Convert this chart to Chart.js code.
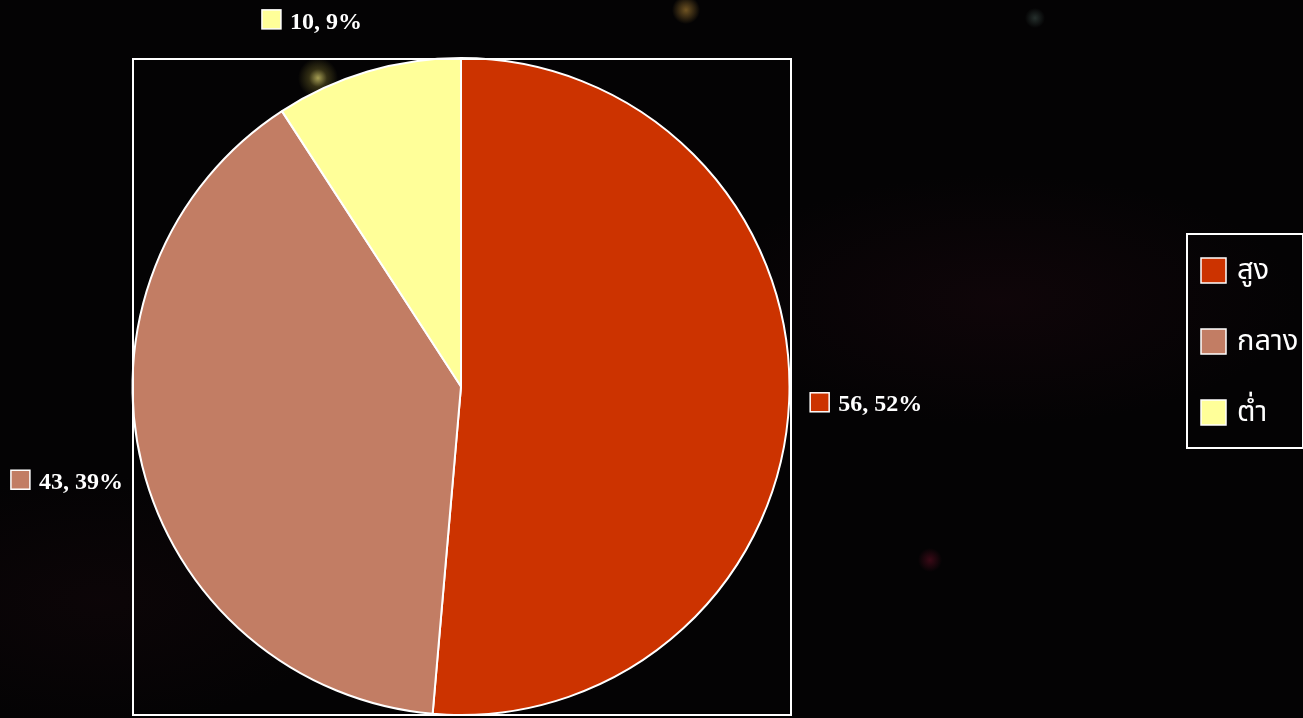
<!DOCTYPE html>
<html>
<head>
<meta charset="utf-8">
<script src="https://cdn.jsdelivr.net/npm/chart.js@4.4.0/dist/chart.umd.min.js"></script>
<style>
html,body{margin:0;padding:0;width:1303px;height:718px;overflow:hidden;
background:
 radial-gradient(circle at 318px 78px, rgba(220,210,110,0.75) 0px, rgba(140,130,50,0.35) 9px, rgba(0,0,0,0) 20px),
 radial-gradient(circle at 686px 10px, rgba(200,150,60,0.55) 0px, rgba(0,0,0,0) 14px),
 radial-gradient(circle at 930px 560px, rgba(140,20,50,0.4) 0px, rgba(0,0,0,0) 12px),
 radial-gradient(circle at 1035px 18px, rgba(100,130,120,0.35) 0px, rgba(0,0,0,0) 10px),
 radial-gradient(ellipse at 1000px 300px, rgba(40,10,20,0.3) 0px, rgba(0,0,0,0) 300px),
 radial-gradient(ellipse at 100px 600px, rgba(30,10,15,0.3) 0px, rgba(0,0,0,0) 250px),
 #040304;}
canvas{display:block;}
</style>
</head>
<body>
<canvas id="c" width="1303" height="718"></canvas>
<script>
const categories = ['สูง', 'กลาง', 'ต่ำ'];
const values = [56, 43, 10];
const percentLabels = ['52%', '39%', '9%'];
const colors = ['#CC3300', '#C27D64', '#FFFF99'];

const overlay = {
  id: 'overlay',
  afterDraw(chart) {
    const ctx = chart.ctx;
    const area = chart.chartArea;
    ctx.save();
    // plot area box
    ctx.strokeStyle = '#ffffff';
    ctx.lineWidth = 2;
    ctx.strokeRect(area.left + 2, area.top + 2, area.right - area.left - 2, area.bottom - area.top - 3);

    // data labels
    const meta = chart.getDatasetMeta(0);
    ctx.font = 'bold 24px "Liberation Serif", "Times New Roman", serif';
    ctx.textBaseline = 'middle';
    meta.data.forEach((arc, i) => {
      const mid = (arc.startAngle + arc.endAngle) / 2;
      const dx = Math.cos(mid), dy = Math.sin(mid);
      const ax = arc.x + (arc.outerRadius + 20) * dx;
      const ay = arc.y + (arc.outerRadius + 20) * dy;
      const text = values[i] + ', ' + percentLabels[i];
      const tw = ctx.measureText(text).width;
      const sq = 19, gap = 10;
      const total = sq + gap + tw;
      let left = dx >= 0 ? ax : ax - total;
      let cy;
      if (dy < -0.7) cy = ay - 32;
      else if (dy > 0.7) cy = ay + 32;
      else cy = ay + dy * 40;
      ctx.fillStyle = colors[i];
      ctx.fillRect(left + 1, cy - sq / 2 - 1, sq, sq);
      ctx.strokeStyle = '#ffffff';
      ctx.lineWidth = 1.5;
      ctx.strokeRect(left + 1, cy - sq / 2 - 1, sq, sq);
      ctx.fillStyle = '#ffffff';
      ctx.textAlign = 'left';
      ctx.fillText(text, left + sq + gap, cy + 2);
    });

    // legend
    const lx = 1186, ly = 233, lw = 116, lh = 214;
    ctx.strokeStyle = '#ffffff';
    ctx.lineWidth = 2;
    ctx.strokeRect(lx + 1, ly + 1, lw, lh);
    ctx.font = '29px "Noto Sans Thai", "Loma", "Garuda", "Noto Sans", sans-serif';
    categories.forEach((c, i) => {
      const cy = 271 + i * 71;
      ctx.fillStyle = colors[i];
      ctx.fillRect(1201, cy - 13, 25, 25);
      ctx.strokeStyle = '#ffffff';
      ctx.lineWidth = 1.5;
      ctx.strokeRect(1201, cy - 13, 25, 25);
      ctx.fillStyle = '#ffffff';
      ctx.textAlign = 'left';
      ctx.textBaseline = 'middle';
      ctx.fillText(c, 1237, cy + 2);
    });
    ctx.restore();
  }
};

new Chart(document.getElementById('c'), {
  type: 'pie',
  data: {
    labels: categories,
    datasets: [{
      data: values,
      backgroundColor: colors,
      borderColor: '#ffffff',
      borderWidth: 2
    }]
  },
  options: {
    responsive: false,
    animation: false,
    layout: { padding: { left: 131, right: 512, top: 57, bottom: 2 } },
    plugins: { legend: { display: false }, tooltip: { enabled: false } }
  },
  plugins: [overlay]
});
</script>
</body>
</html>
